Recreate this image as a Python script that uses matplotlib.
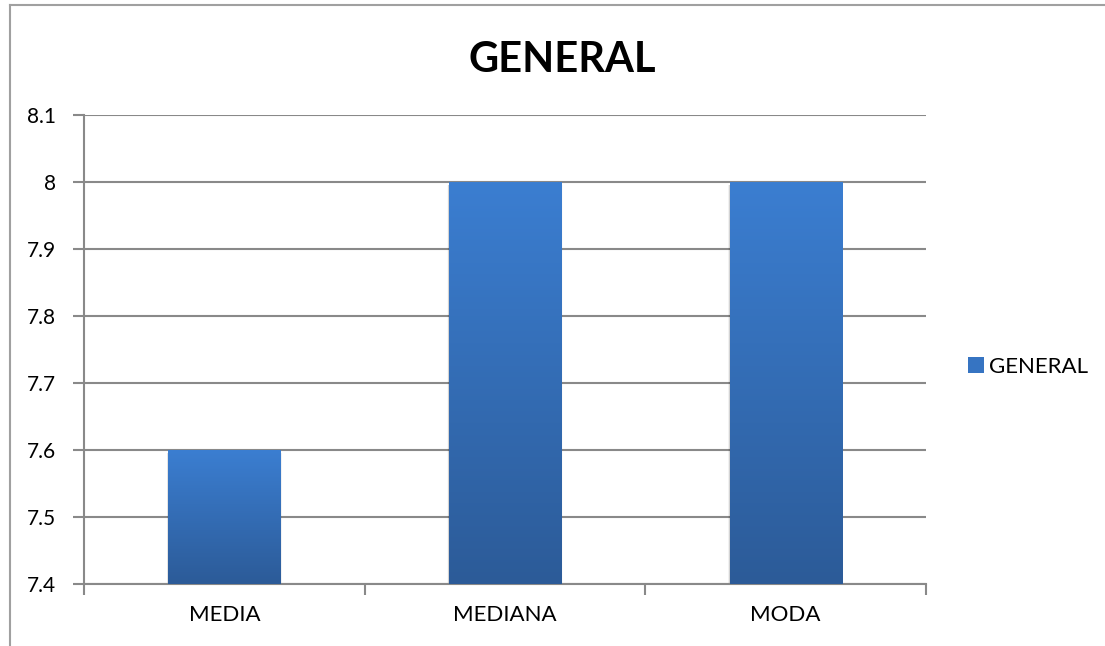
import numpy as np
import matplotlib.pyplot as plt
from matplotlib.colors import LinearSegmentedColormap
from matplotlib.patches import Rectangle
from matplotlib.lines import Line2D

categories = ['MEDIA', 'MEDIANA', 'MODA']
values = [7.6, 8.0, 8.0]
series_name = 'GENERAL'
yticks = [7.4, 7.5, 7.6, 7.7, 7.8, 7.9, 8.0, 8.1]
ytick_labels = ['7.4', '7.5', '7.6', '7.7', '7.8', '7.9', '8', '8.1']

plt.rcParams['font.family'] = ['Lato', 'DejaVu Sans']

grid_col = '#898989'
top_col = '#3b7ed1'
bot_col = '#2c5b98'
cmap = LinearSegmentedColormap.from_list('bar', [bot_col, top_col])

fig = plt.figure(figsize=(11.05, 6.46), dpi=100)
ax = fig.add_axes([84/1105, 1-584/646, (926-84)/1105, (584-115)/646])

ymin, ymax = 7.4, 8.1
x = np.arange(len(categories))
width = 0.40

bars = ax.bar(x, [v - ymin for v in values], width, bottom=ymin,
              color='none', edgecolor='none', zorder=3)
grad = np.linspace(0, 1, 256).reshape(-1, 1)
for b, v in zip(bars, values):
    x0 = b.get_x()
    # soft shadow on the sides
    for k, a in zip([5, 4, 3, 2], [0.02, 0.035, 0.05, 0.07]):
        dx = k * 0.0012
        ax.add_patch(Rectangle((x0 - dx, ymin), width + 2*dx, v - ymin - 0.004,
                               facecolor='#000000', alpha=a, edgecolor='none', zorder=2))
    im = ax.imshow(grad, cmap=cmap, aspect='auto', origin='lower',
                   extent=[x0, x0 + width, ymin, v], zorder=3)
    im.set_clip_path(b)

ax.set_xlim(-0.5, len(categories) - 0.5)
ax.set_ylim(ymin, ymax)
ax.set_yticks(yticks)
ax.set_yticklabels(ytick_labels)
ax.set_xticks(x)
ax.set_xticklabels(categories)
ax.set_xticks(np.arange(len(categories) + 1) - 0.5, minor=True)
ax.tick_params(axis='x', which='major', length=0, pad=15, labelsize=16)
ax.tick_params(axis='x', which='minor', length=8, width=1.5, color=grid_col)
ax.tick_params(axis='y', length=8, width=1.5, color=grid_col, pad=12, labelsize=15)
ax.grid(axis='y', color=grid_col, linewidth=1.5, zorder=1)
ax.set_axisbelow(True)
for s in ['top', 'right']:
    ax.spines[s].set_visible(False)
for s in ['left', 'bottom']:
    ax.spines[s].set_color(grid_col)
    ax.spines[s].set_linewidth(1.5)

fig.text(562/1105, 1-72/646, 'GENERAL', ha='center', va='baseline',
         fontsize=30, fontweight='bold')

handle = Rectangle((0, 0), 1, 1, facecolor='#3674c2', edgecolor='none')
fig.legend([handle], [series_name], loc='center left',
           bbox_to_anchor=(948/1105, 1-367/646), frameon=False,
           fontsize=16, handlelength=0.7, handleheight=0.7, handletextpad=0.25)

# chart frame
fig.add_artist(Line2D([10/1105, 10/1105], [0, 1-5/646], color='#a0a0a0', lw=1.5))
fig.add_artist(Line2D([10/1105, 1], [1-5/646, 1-5/646], color='#a0a0a0', lw=1.5))

fig.savefig('out.png', dpi=100)
